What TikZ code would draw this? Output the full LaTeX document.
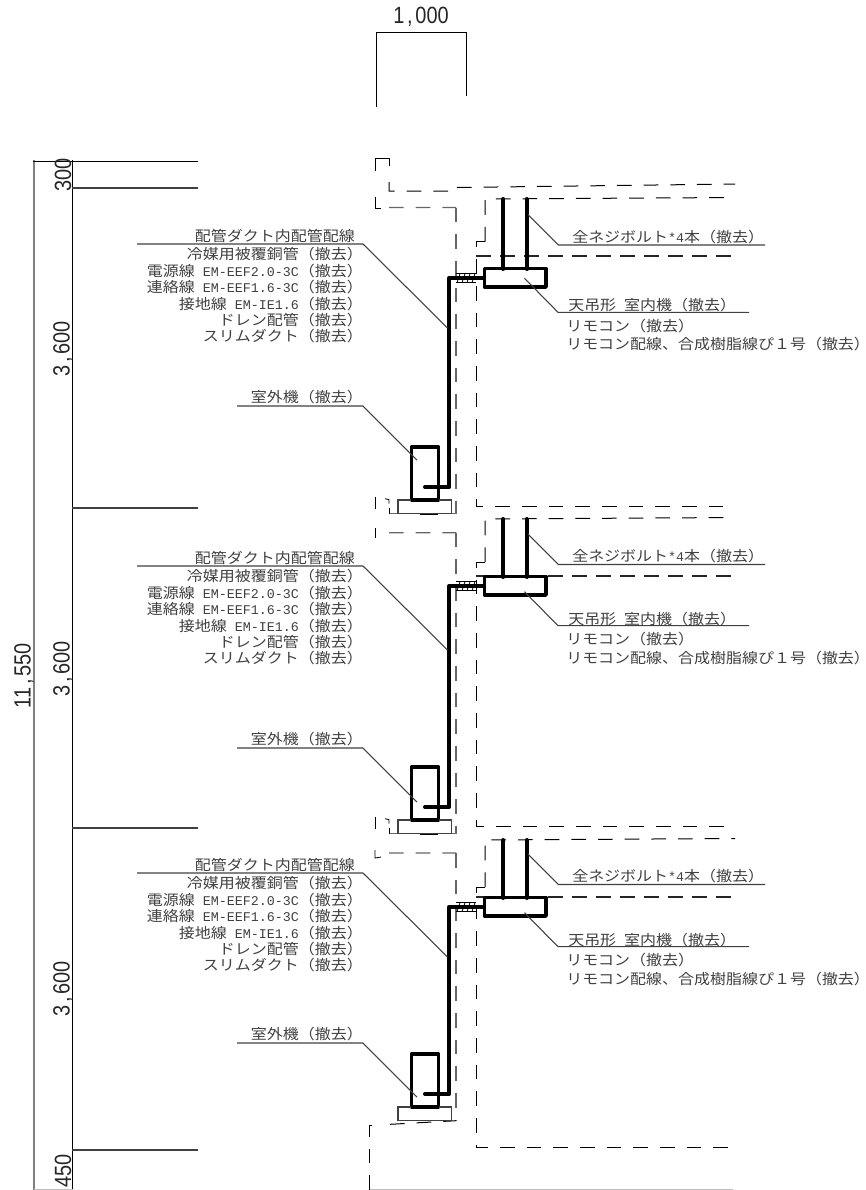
\documentclass[tikz,border=0pt]{standalone}
\usepackage{fontspec}
\setmainfont[FakeStretch=1.11]{Noto Sans CJK JP}
\newfontfamily\latn[Scale=0.926]{Liberation Mono}
\newfontfamily\dimf[FakeStretch=0.85]{Liberation Sans}
\newcommand{\dcm}{\makebox[0.47em]{,}}
\tikzset{
  wall/.style={line width=0.75pt,dash pattern=on 11pt off 9pt},
  wallgray/.style={line width=1pt,black!60,dash pattern=on 11pt off 9pt},
  slab/.style={line width=1.3pt,black!85,dash pattern=on 11pt off 7pt},
  pipe/.style={line width=3pt,line join=round,line cap=round},
  unitbox/.style={line width=2.6pt,line join=round},
  thinline/.style={line width=0.6pt},
  leader/.style={line width=0.8pt,black!75},
  dimtext/.style={inner sep=0pt,font=\fontsize{17.6}{17.6}\selectfont\dimf,text=black!85},
  lbl/.style={inner sep=0pt,font=\fontsize{10.8}{12.3}\selectfont,text=black!75},
}
\begin{document}
\begin{tikzpicture}[x=0.75pt,y=-0.75pt]
\useasboundingbox (0,0) rectangle (866,1190);
% width dimension
\coordinate (widthL) at (376,32);
\coordinate (widthR) at (466,32);
\draw[thinline] (376,107) -- (widthL) -- (widthR) -- (466,96);
\node[dimtext] (width) at (421,17) {1\dcm 000};
% height dimensions
\draw[line width=1.5pt,black!50] (34,160) -- (34,1190);
\draw[thinline] (72.5,160) -- (72.5,1190);
\draw[thinline] (33,161) -- (198,161);
\foreach \lev in {188,508,828,1150}
  \draw[leader] (72,\lev) -- (198,\lev);
\draw[black!25] (34,1189.3) -- (73,1189.3);
\draw[black!25] (369,1189.3) -- (733,1189.3);
\node[dimtext,rotate=90] (total) at (24,675.5) {11\dcm 550};
\node[dimtext,rotate=90] (topdim) at (63,175) {300};
\node[dimtext,rotate=90] (botdim) at (63,1171) {450};
% walls, left side
\draw[thinline] (375,171) -- (375,158.5) -- (389,158.5) -- (389,166);
\draw[wall] (389,182) -- (389,191) -- (456,191) -- (456.5,187.5) -- (735,184);
\draw[thinline] (375,197) -- (375,208) -- (381,208);
\draw[thinline] (375,528) -- (375,538);
\draw[thinline] (375,850) -- (375,858) -- (381,857);
\foreach \wt/\wb in {207.5/513.7,532.7/833.7,853/1120.7}{
  \draw[wallgray] (389,\wt) -- (456,\wt+0.01);
  \draw[wallgray] (456,\wt) -- (456,\wb);
}
\foreach \wb in {513.7,833.7}{
  \draw[wallgray] (456,\wb) -- (389,\wb);
  \draw[thinline] (389,\wb) -- (389,\wb-6);
  \draw[thinline] (389,\wb-10) -- (389,\wb-14) -- (385,\wb-15);
  \draw[thinline] (375,\wb-17) -- (375,\wb-5);
}
\draw[wall] (369,1190) -- (369,1125) -- (376,1125);
\draw[wall] (390,1124.3) -- (456,1120.7);
% the three floors
\foreach \n/\ry/\pipey/\stuby/\leady/\oty/\ouly/\iny/\bly in {
  1/0/278/241.5/244/447/406/312.3/245,
  2/320/586/562/566/767/748/625.7/564.5,
  3/641/907/887/873/1054/1043/946.7/884.5}{
  % room
  \draw[wall] (485,\stuby) -- (485,\ry+199) -- (735,\ry+197.5);
  \draw[wall] (485,\stuby) -- (476,\stuby) -- (476,\ry+506.5) -- (735,\ry+506.5);
  \draw[slab] (476,\ry+256) -- (735,\ry+256);
  % sleeve
  \draw[thinline] (456,\pipey-4.5) -- (476,\pipey-4.5);
  \draw[thinline] (456,\pipey+4.5) -- (476,\pipey+4.5);
  \foreach \hx in {459,464,469,474}
    \draw[thinline] (\hx-2,\pipey+4.5) -- (\hx+1,\pipey-4.5);
  % indoor unit, bolts, pipe
  \draw[pipe] (503.3,\ry+199) -- (503.3,\pipey-9);
  \draw[pipe] (526.7,\ry+199) -- (526.7,\pipey-9);
  \draw[unitbox] (484.5,\pipey-9.5) rectangle (546,\pipey+9);
  \draw[pipe] (425,\oty+40) -- (449.3,\oty+40) -- (449.3,\pipey) -- (484,\pipey);
  % outdoor unit
  \draw[unitbox] (411.5,\oty) rectangle (438.5,\oty+53);
  \draw[leader] (398,\oty+66.5) -- (398,\oty+53) -- (411,\oty+53);
  \draw[leader] (439,\oty+53) -- (451.5,\oty+53) -- (451.5,\oty+66.5) -- (398,\oty+66.5);
  % pipe label
  \coordinate (pipeA\n) at (137,\leady);
  \coordinate (pipeB\n) at (363,\leady);
  \coordinate (pipeC\n) at (447.5,\leady+84);
  \draw[leader] (pipeA\n) -- (pipeB\n) -- (pipeC\n);
  \node[lbl,anchor=east] (pipehead\n) at (355,\leady-8.5) {配管ダクト内配管配線};
  \node[lbl,anchor=east,align=right] (pipelist\n) at (363,\leady+51.5) {冷媒用被覆銅管（撤去）\\
    電源線{\latn\ EM-EEF2.0-3C}（撤去）\\
    連絡線{\latn\ EM-EEF1.6-3C}（撤去）\\
    接地線{\latn\ EM-IE1.6}（撤去）\\
    ドレン配管（撤去）\\
    スリムダクト（撤去）};
  % outdoor label
  \coordinate (outA\n) at (237,\ouly);
  \coordinate (outB\n) at (363,\ouly);
  \coordinate (outC\n) at (417,\ouly+54);
  \draw[leader] (outA\n) -- (outB\n) -- (outC\n);
  \node[lbl,anchor=east] (outlbl\n) at (363,\ouly-8.5) {室外機（撤去）};
  % bolt label
  \coordinate (boltA\n) at (528,\bly-30.5);
  \coordinate (boltB\n) at (558.3,\bly);
  \coordinate (boltC\n) at (765,\bly);
  \draw[leader] (boltA\n) -- (boltB\n) -- (boltC\n);
  \node[lbl,anchor=west] (boltlbl\n) at (572,\bly-8) {全ネジボルト{\latn*4}本（撤去）};
  % indoor label
  \coordinate (inA\n) at (524.5,\iny-34);
  \coordinate (inB\n) at (558,\iny);
  \coordinate (inC\n) at (749,\iny);
  \draw[leader] (inA\n) -- (inB\n) -- (inC\n);
  \node[lbl,anchor=west] (inlbl\n) at (568,\iny-7) {天吊形{\latn\ }室内機（撤去）};
  \node[lbl,anchor=west,align=left] (inlist\n) at (566,\iny+23) {リモコン（撤去）\\[1.5pt]
    リモコン配線、合成樹脂線ぴ１号（撤去）\kern-0.5em};
}
% floor heights
\foreach \n/\dy in {1/348.7,2/668.7,3/989}
  \node[dimtext,rotate=90] (floordim\n) at (63,\dy) {3\dcm 600};
\draw[line width=1pt] (420,514.5) -- (438,514.5);
\draw[line width=1pt] (420,834.5) -- (438,834.5);
\end{tikzpicture}
\end{document}
